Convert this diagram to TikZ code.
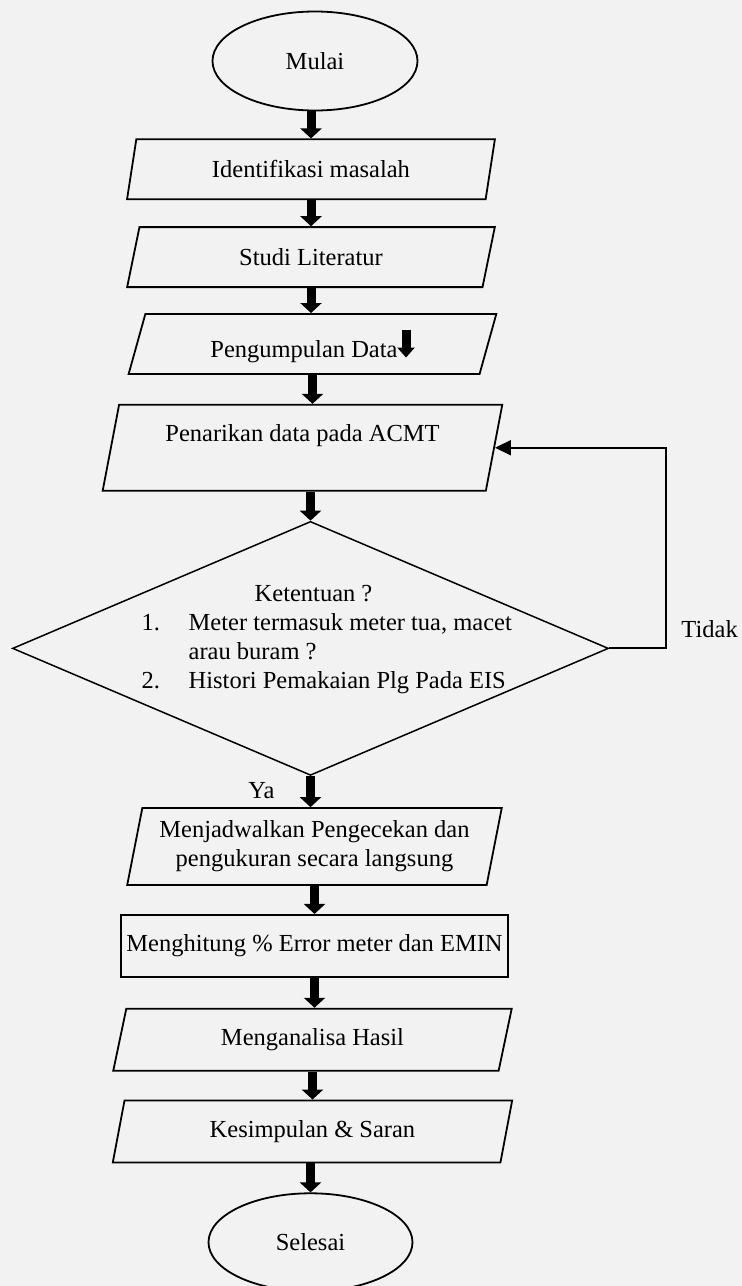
\documentclass[tikz,border=0pt]{standalone}
\usepackage{fontspec}
\setmainfont{Liberation Serif}
\usetikzlibrary{shapes.geometric,arrows.meta,positioning}
\definecolor{pagebg}{RGB}{242,242,242}
\tikzset{
terminal/.style={
  ellipse,
  draw,
  line width=1.8pt,
  minimum width=205pt,
  minimum height=99pt,
  inner sep=0pt},
io/.style={
  trapezium,
  trapezium left angle=76,
  trapezium right angle=104,
  trapezium stretches=true,
  draw,
  line width=1.8pt,
  minimum width=368pt,
  minimum height=60pt,
  inner sep=2pt,
  align=center},
process/.style={
  rectangle,
  draw,
  line width=1.8pt,
  minimum width=387pt,
  minimum height=62pt,
  inner sep=0pt},
decision/.style={
  diamond,
  draw,
  line width=1.5pt,
  minimum width=596pt,
  minimum height=254pt,
  inner sep=0pt},
fat/.style={draw, line width=9pt, -{Triangle[width=21pt,length=10pt]}},
loopline/.style={draw, line width=2pt, -{Triangle[width=15pt,length=16pt]}}
}

\begin{document}
\begin{tikzpicture}[font=\fontsize{24.5pt}{29pt}\selectfont]
    \fill[pagebg] (0,0) rectangle (742pt,-1286pt);
    \useasboundingbox (0,0) rectangle (742pt,-1286pt);
    \node [terminal] (mulai) at (315pt,-61pt) {Mulai};
    \node [io, below=27pt of mulai, xshift=-4pt] (ident) {Identifikasi masalah};
    \node [io, below=26pt of ident] (studi) {Studi Literatur};
    \node [io, below=25pt of studi, xshift=1.5pt] (kumpul) {Pengumpulan Data\tikz[baseline=0pt]\draw[line width=9pt, -{Triangle[width=17pt,length=10pt]}] (0,28pt) -- (0,0);};
    \node [io, below=29pt of kumpul, xshift=-10pt, minimum width=400pt, minimum height=86pt] (tarik) {Penarikan data pada ACMT\\\mbox{}};
    \node [decision, below=29pt of tarik, xshift=8pt] (syarat) {};
    \node [align=left, anchor=west, inner sep=0pt] (syarattxt) at ([xshift=-169pt, yshift=8.5pt]syarat.center) {%
      \hspace*{113pt}Ketentuan ?\\
      \makebox[47pt][l]{1.}Meter termasuk meter tua, macet\\
      \hspace*{47pt}arau buram ?\\
      \makebox[47pt][l]{2.}Histori Pemakaian Plg Pada EIS};
    \node [io, below=31pt of syarat, xshift=4pt, minimum width=376pt, minimum height=77pt] (jadwal) {Menjadwalkan Pengecekan dan\\pengukuran secara langsung};
    \node [process, below=28pt of jadwal] (hitung) {Menghitung \% Error meter dan EMIN};
    \node [io, below=30pt of hitung, xshift=-2pt, minimum width=399pt, minimum height=62pt] (analisa) {Menganalisa Hasil};
    \node [io, below=28pt of analisa, minimum width=400pt, minimum height=62pt] (simpul) {Kesimpulan \& Saran};
    \node [terminal, below=29pt of simpul, xshift=-2pt, minimum width=204pt, minimum height=98pt] (selesai) {Selesai};
    \node [inner sep=0pt, anchor=west] (tidak) at ([xshift=72pt, yshift=19.5pt]syarat.east) {Tidak};
    \node [inner sep=0pt] (ya) at ([xshift=-49pt, yshift=-14pt]syarat.south) {Ya};
    \path [fat] (mulai.south -| ident.north) -- (ident.north);
    \path [fat] (ident.south) -- (studi.north);
    \path [fat] (studi.south) -- (kumpul.north -| studi.south);
    \path [fat] (kumpul.south) -- (kumpul.south |- tarik.north);
    \path [fat] (tarik.south -| syarat.north) -- (syarat.north);
    \path [fat] (syarat.south) -- (syarat.south |- jadwal.north);
    \path [fat] (jadwal.south -| hitung.north) -- (hitung.north);
    \path [fat] (hitung.south) -- (hitung.south |- analisa.north);
    \path [fat] (analisa.south) -- (simpul.north);
    \path [fat] (simpul.south -| selesai.north) -- (selesai.north);
    \path [loopline] (syarat.east) -- ++(57pt,0) |- (tarik.east);
\end{tikzpicture}
\end{document}
